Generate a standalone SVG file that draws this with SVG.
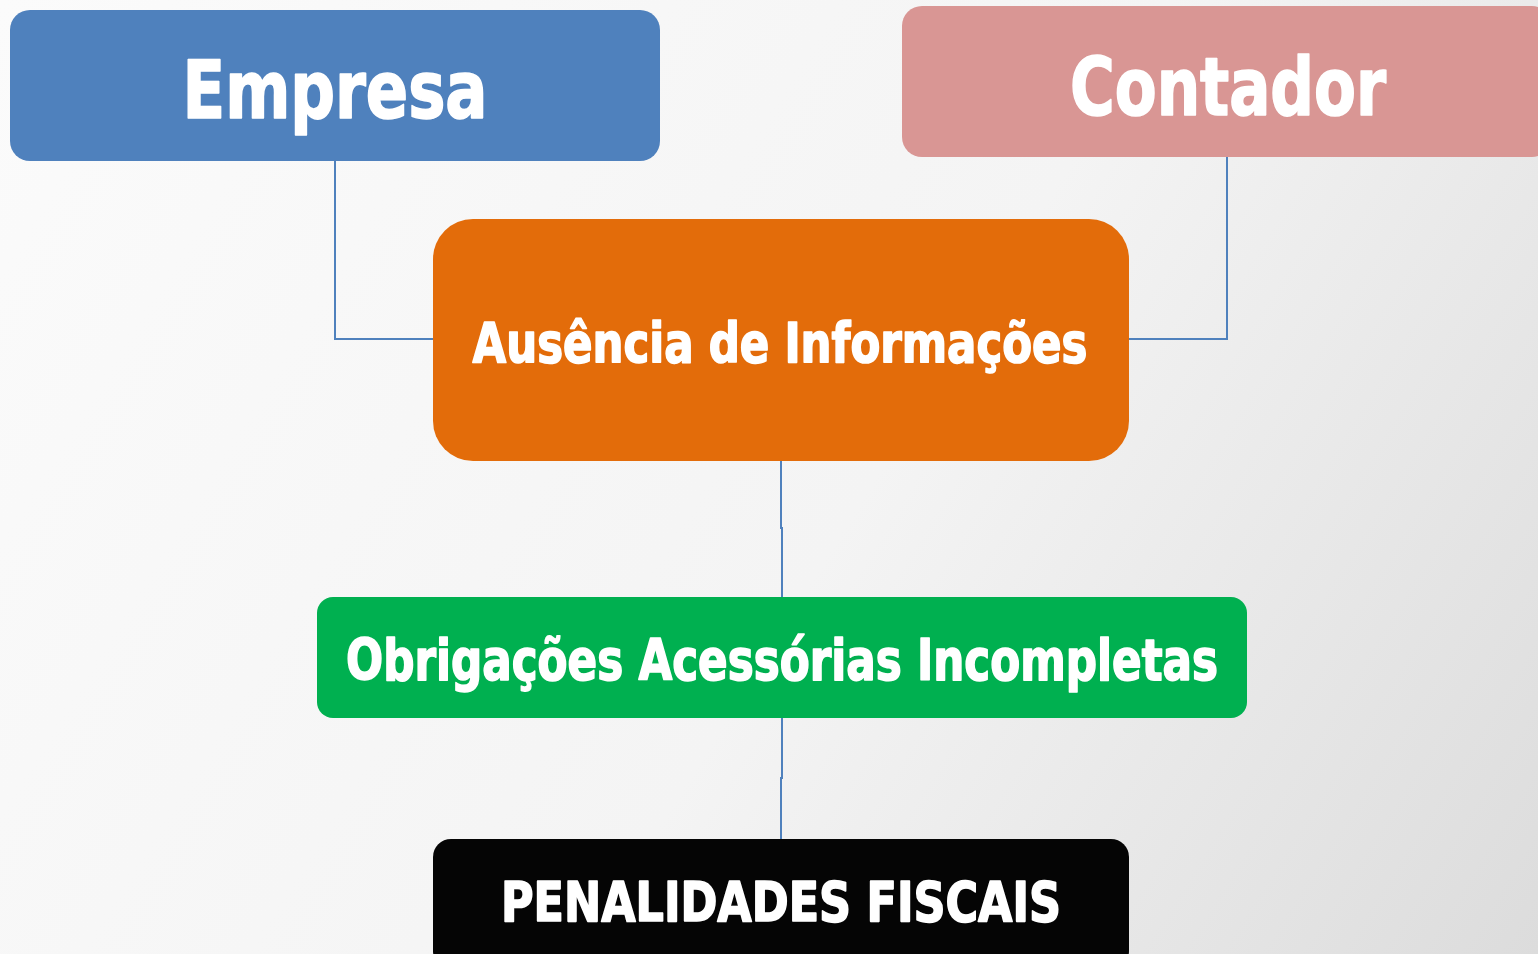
<svg xmlns="http://www.w3.org/2000/svg" width="1538" height="954" viewBox="0 0 1538 954">
<defs>
<linearGradient id="bg" x1="0" y1="0" x2="1538" y2="954" gradientUnits="userSpaceOnUse">
<stop offset="0" stop-color="#fbfbfb"/>
<stop offset="0.55" stop-color="#f4f4f4"/>
<stop offset="1" stop-color="#dcdcdc"/>
</linearGradient>
</defs>
<style>
.t{font-family:"Liberation Sans Narrow","DejaVu Sans Condensed","Liberation Sans",sans-serif;font-weight:bold;fill:#ffffff;stroke:#ffffff;stroke-width:1.6;stroke-linejoin:round;text-anchor:middle}
.c{fill:none;stroke:#4f81bd;stroke-width:2}
</style>
<rect x="0" y="0" width="1538" height="954" fill="url(#bg)"/>
<g id="connectors">
<polyline class="c" points="335,161 335,339 433,339"/>
<polyline class="c" points="1227,157 1227,339 1129,339"/>
<polyline class="c" points="781,461 781,528 782,528 782,597"/>
<polyline class="c" points="782,718 782,778 781,778 781,839"/>
</g>
<g id="empresa">
<rect x="10" y="10" width="650" height="151" rx="20" fill="#4f81bd"/>
<text class="t" x="335" y="118" font-size="80" textLength="305" lengthAdjust="spacingAndGlyphs">Empresa</text>
</g>
<g id="contador">
<rect x="902" y="6" width="650" height="151" rx="20" fill="#d99694"/>
<text class="t" x="1228" y="115" font-size="80" textLength="316" lengthAdjust="spacingAndGlyphs">Contador</text>
</g>
<g id="ausencia">
<rect x="433" y="219" width="696" height="242" rx="40" fill="#e36c0a"/>
<text class="t" x="780" y="362" font-size="56" textLength="615" lengthAdjust="spacingAndGlyphs">Ausência de Informações</text>
</g>
<g id="obrigacoes">
<rect x="317" y="597" width="930" height="121" rx="16" fill="#00b050"/>
<text class="t" x="782" y="680" font-size="57" textLength="872" lengthAdjust="spacingAndGlyphs">Obrigações Acessórias Incompletas</text>
</g>
<g id="penalidades">
<rect x="433" y="839" width="696" height="130" rx="18" fill="#050505"/>
<text class="t" x="781" y="921" font-size="55" textLength="560" lengthAdjust="spacingAndGlyphs">PENALIDADES FISCAIS</text>
</g>
</svg>
